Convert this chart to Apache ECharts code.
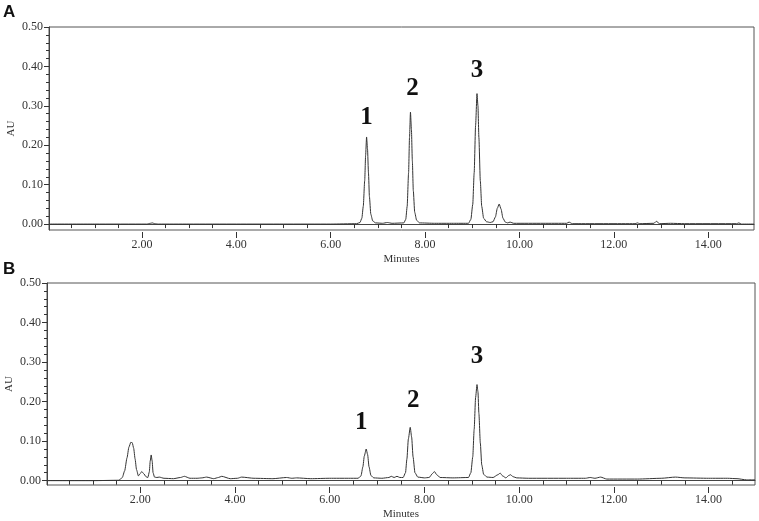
<!DOCTYPE html>
<html>
<head>
<meta charset="utf-8">
<script src="https://cdn.jsdelivr.net/npm/echarts@6/dist/echarts.min.js"></script>
<style>html,body{margin:0;padding:0;background:#fff;}#c{width:759px;height:521px;}</style>
</head>
<body>
<div id="c"></div>
<script>
// ---- Data ----
// Panel A chromatogram: [retention time (min), absorbance (AU)]
var traceA = [
  [0.03, 0.000], [1.00, 0.000], [2.10, 0.000], [2.18, 0.002], [2.22, 0.003], [2.27, 0.001], [2.35, 0.000],
  [3.00, 0.000], [4.00, 0.000], [5.00, 0.000], [6.00, 0.000], [6.55, 0.001],
  [6.62, 0.004], [6.66, 0.015], [6.69, 0.045], [6.72, 0.110], [6.74, 0.175], [6.76, 0.221],
  [6.78, 0.190], [6.80, 0.130], [6.82, 0.070], [6.85, 0.025], [6.89, 0.008], [6.95, 0.003],
  [7.10, 0.002], [7.20, 0.004], [7.30, 0.002],
  [7.55, 0.003], [7.59, 0.012], [7.62, 0.045], [7.65, 0.130], [7.67, 0.220], [7.69, 0.284],
  [7.71, 0.240], [7.73, 0.160], [7.75, 0.085], [7.78, 0.030], [7.82, 0.010], [7.88, 0.003],
  [8.20, 0.002], [8.60, 0.002],
  [8.92, 0.002], [8.97, 0.012], [9.01, 0.050], [9.04, 0.130], [9.07, 0.250], [9.10, 0.331],
  [9.12, 0.300], [9.14, 0.220], [9.17, 0.110], [9.20, 0.045], [9.24, 0.015], [9.30, 0.006], [9.38, 0.004],
  [9.44, 0.006], [9.49, 0.018], [9.53, 0.040], [9.57, 0.051], [9.61, 0.038], [9.65, 0.015], [9.70, 0.005],
  [9.75, 0.003], [9.80, 0.005], [9.88, 0.002],
  [10.50, 0.002], [11.00, 0.002], [11.05, 0.005], [11.12, 0.001],
  [12.45, 0.001], [12.50, 0.003], [12.55, 0.001], [12.85, 0.002], [12.90, 0.007], [12.97, 0.001],
  [13.20, 0.002], [13.50, 0.001], [14.60, 0.001], [14.65, 0.003], [14.70, 0.000], [14.97, 0.000]
];

// Panel B chromatogram
var traceB = [
  [0.03, 0.000], [1.00, 0.000], [1.55, 0.001],
  [1.62, 0.008], [1.67, 0.025], [1.72, 0.058], [1.76, 0.085], [1.80, 0.097], [1.83, 0.096],
  [1.86, 0.082], [1.89, 0.055], [1.92, 0.028], [1.96, 0.012], [2.00, 0.018], [2.03, 0.023],
  [2.07, 0.018], [2.12, 0.010], [2.16, 0.008], [2.19, 0.022], [2.21, 0.050], [2.23, 0.065],
  [2.25, 0.050], [2.27, 0.020], [2.30, 0.009], [2.35, 0.008], [2.40, 0.009], [2.50, 0.006],
  [2.70, 0.005], [2.85, 0.008], [2.93, 0.011], [3.05, 0.006], [3.20, 0.006], [3.30, 0.007],
  [3.40, 0.009], [3.55, 0.005], [3.65, 0.008], [3.72, 0.011], [3.90, 0.005], [4.05, 0.006],
  [4.14, 0.009], [4.40, 0.006], [4.80, 0.005], [5.09, 0.008], [5.20, 0.006], [5.30, 0.007],
  [5.60, 0.005], [6.00, 0.006], [6.40, 0.006],
  [6.60, 0.006], [6.66, 0.012], [6.70, 0.035], [6.73, 0.062], [6.77, 0.080], [6.80, 0.066],
  [6.83, 0.035], [6.87, 0.013], [6.93, 0.007], [7.10, 0.006], [7.25, 0.008], [7.30, 0.011],
  [7.36, 0.008], [7.42, 0.011], [7.48, 0.008],
  [7.55, 0.008], [7.60, 0.020], [7.63, 0.055], [7.66, 0.105], [7.70, 0.135], [7.73, 0.110],
  [7.76, 0.060], [7.80, 0.020], [7.86, 0.009], [8.00, 0.007],
  [8.10, 0.008], [8.17, 0.018], [8.21, 0.023], [8.26, 0.015], [8.33, 0.008], [8.60, 0.007],
  [8.93, 0.008], [8.98, 0.020], [9.02, 0.060], [9.05, 0.130], [9.08, 0.210], [9.11, 0.243],
  [9.13, 0.225], [9.15, 0.170], [9.18, 0.095], [9.21, 0.040], [9.25, 0.016], [9.32, 0.009],
  [9.45, 0.008], [9.55, 0.015], [9.60, 0.019], [9.65, 0.012], [9.72, 0.007], [9.78, 0.013],
  [9.82, 0.015], [9.87, 0.010], [9.95, 0.007], [10.20, 0.006], [11.00, 0.006], [11.40, 0.006],
  [11.50, 0.008], [11.60, 0.006], [11.72, 0.009], [11.85, 0.004], [12.50, 0.004], [13.00, 0.006],
  [13.30, 0.009], [13.50, 0.007], [14.00, 0.006], [14.40, 0.006], [14.60, 0.005], [14.80, 0.002],
  [14.98, 0.002]
];

// Peak annotations
var peakNames = ['1', '2', '3'];
var peakTimesA = [6.76, 7.69, 9.10];
var peakHeightsA = [0.221, 0.284, 0.331];
var peakTimesB = [6.77, 7.70, 9.11];
var peakHeightsB = [0.080, 0.135, 0.243];

// Tick values / labels
var yTickValues = [0, 0.1, 0.2, 0.3, 0.4, 0.5];
var yMinorTicks = [0.02, 0.04, 0.06, 0.08, 0.12, 0.14, 0.16, 0.18, 0.22, 0.24, 0.26, 0.28, 0.32, 0.34, 0.36, 0.38, 0.42, 0.44, 0.46, 0.48];
var xTickValues = [2, 4, 6, 8, 10, 12, 14];
var xMinorTicks = [0.5, 1, 1.5, 2.5, 3, 3.5, 4.5, 5, 5.5, 6.5, 7, 7.5, 8.5, 9, 9.5, 10.5, 11, 11.5, 12.5, 13, 13.5, 14.5];

// ---- Chart ----
function peakMarks(times, heights, offsets) {
  return times.map(function (t, i) {
    return { name: peakNames[i], coord: [t, heights[i]], label: { offset: offsets[i] } };
  });
}

var serif = 'Liberation Serif';
var tickColor = '#333';
var lblStyle = { fontFamily: serif, fontSize: 12, color: '#333' };

function xAxesFor(gridIndex, min, max) {
  return [
    {
      type: 'value', gridIndex: gridIndex, min: min, max: max, position: 'bottom',
      axisLine: { show: true, lineStyle: { color: '#444', width: 1 } },
      axisTick: { show: false },
      splitLine: { show: false },
      axisLabel: Object.assign({ customValues: xTickValues, margin: 9, formatter: function (v) { return v.toFixed(2); } }, lblStyle),
      name: 'Minutes', nameLocation: 'middle', nameGap: 24, nameMoveOverlap: false,
      nameTextStyle: { fontFamily: serif, fontSize: 11, color: '#333' }
    },
    {
      type: 'value', gridIndex: gridIndex, min: min, max: max, position: 'bottom', offset: 2,
      axisLine: { show: false },
      axisTick: { show: true, customValues: xMinorTicks, length: 4, lineStyle: { color: tickColor } },
      axisLabel: { show: false }, splitLine: { show: false }
    },
    {
      type: 'value', gridIndex: gridIndex, min: min, max: max, position: 'bottom', offset: 2,
      axisLine: { show: false },
      axisTick: { show: true, customValues: xTickValues, length: 6, lineStyle: { color: tickColor } },
      axisLabel: { show: false }, splitLine: { show: false }
    }
  ];
}
function yAxesFor(gridIndex, min) {
  return [
    {
      type: 'value', gridIndex: gridIndex, min: min, max: 0.5, position: 'left',
      axisLine: { show: true, lineStyle: { color: '#444', width: 1 } },
      axisTick: { show: true, customValues: yTickValues, length: 5, lineStyle: { color: tickColor } },
      splitLine: { show: false },
      axisLabel: Object.assign({ customValues: yTickValues, margin: 6, formatter: function (v) { return v.toFixed(2); } }, lblStyle),
      name: 'AU', nameLocation: 'middle', nameGap: 32, nameRotate: 90, nameMoveOverlap: false,
      nameTextStyle: { fontFamily: serif, fontSize: 11, color: '#333' }
    },
    {
      type: 'value', gridIndex: gridIndex, min: min, max: 0.5, position: 'left', offset: 0,
      axisLine: { show: false },
      axisTick: { show: true, customValues: yMinorTicks, length: 3, lineStyle: { color: tickColor } },
      axisLabel: { show: false }, splitLine: { show: false }
    }
  ];
}

var peakLabel = {
  show: true, formatter: '{b}', position: 'inside',
  fontFamily: serif, fontSize: 25, fontWeight: 'bold', color: '#111'
};

var option = {
  animation: false,
  backgroundColor: '#fff',
  grid: [
    { left: 49, top: 27, width: 705, height: 203, containLabel: false, outerBoundsMode: 'none', show: true, borderColor: '#555', borderWidth: 1, backgroundColor: 'transparent' },
    { left: 47, top: 283, width: 708, height: 202, containLabel: false, outerBoundsMode: 'none', show: true, borderColor: '#555', borderWidth: 1, backgroundColor: 'transparent' }
  ],
  xAxis: xAxesFor(0, 0.03, 14.97).concat(xAxesFor(1, 0.03, 14.98)),
  yAxis: yAxesFor(0, -0.015).concat(yAxesFor(1, -0.011)),
  graphic: [
    { type: 'text', left: 3, top: 4, style: { text: 'A', font: 'bold 17px "Liberation Sans"', fill: '#111' } },
    { type: 'text', left: 3, top: 261, style: { text: 'B', font: 'bold 17px "Liberation Sans"', fill: '#111' } }
  ],
  series: [
    {
      type: 'line', xAxisIndex: 0, yAxisIndex: 0, data: traceA,
      showSymbol: false, smooth: 0.2, smoothMonotone: 'x',
      lineStyle: { color: '#333', width: 1 },
      markPoint: {
        symbol: 'circle', symbolSize: 0, label: peakLabel,
        data: peakMarks(peakTimesA, peakHeightsA, [[0, -19], [2, -24], [0, -23]])
      }
    },
    {
      type: 'line', xAxisIndex: 3, yAxisIndex: 2, data: traceB,
      showSymbol: false, smooth: 0.2, smoothMonotone: 'x',
      lineStyle: { color: '#333', width: 1 },
      markPoint: {
        symbol: 'circle', symbolSize: 0, label: peakLabel,
        data: peakMarks(peakTimesB, peakHeightsB, [[-5, -26], [3, -27], [0, -28]])
      }
    }
  ]
};

var chart = echarts.init(document.getElementById('c'), null, { renderer: 'canvas' });
chart.setOption(option);
</script>
</body>
</html>
